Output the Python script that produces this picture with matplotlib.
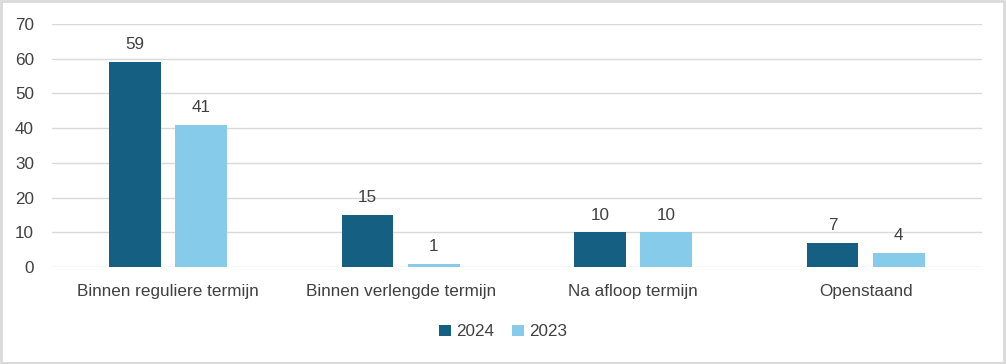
import matplotlib.pyplot as plt
import numpy as np
from matplotlib.patches import Rectangle

categories = ["Binnen reguliere termijn", "Binnen verlengde termijn", "Na afloop termijn", "Openstaand"]
series_names = ["2024", "2023"]
values_2024 = [59, 15, 10, 7]
values_2023 = [41, 1, 10, 4]
colors = ["#156082", "#87CBEB"]

plt.rcParams['font.family'] = ['Liberation Sans', 'DejaVu Sans']

fig = plt.figure(figsize=(10.06, 3.64), dpi=100)
ax = fig.add_axes([0.0517, 0.2665, 0.9243, 0.6675])

x = np.arange(len(categories))
w = 0.223
off = 0.1426
txt = "#404040"
fs = 12.3
for vals, name, c, d in zip([values_2024, values_2023], series_names, colors, [-off, off]):
    bars = ax.bar(x + d, vals, w, color=c, label=name, zorder=3)
    for b, v in zip(bars, vals):
        ax.text(b.get_x() + b.get_width() / 2, v + 2.8, str(v), ha='center', va='bottom',
                fontsize=fs, color=txt)

ax.set_xlim(-0.5, len(categories) - 0.5)
ax.set_ylim(0, 70)
ax.set_yticks(range(0, 71, 10))
ax.set_xticks(x)
ax.set_xticklabels(categories)
ax.grid(axis='y', color='#d9d9d9', linewidth=1, zorder=0)
for s in ax.spines.values():
    s.set_visible(False)
ax.tick_params(axis='both', length=0, labelsize=fs, colors=txt)
ax.tick_params(axis='x', pad=12)
ax.tick_params(axis='y', pad=13)

fig.legend(loc='center', bbox_to_anchor=(0.5, 0.088), ncol=2, frameon=False,
           fontsize=fs, handlelength=0.7, handleheight=0.7, handletextpad=0.3,
           columnspacing=1.0, labelcolor=txt)

fig.patches.append(Rectangle((0.001, 0.002), 0.997, 0.995, transform=fig.transFigure,
                             fill=False, edgecolor='#d9d9d9', linewidth=2))

fig.savefig("out.png", dpi=100)
